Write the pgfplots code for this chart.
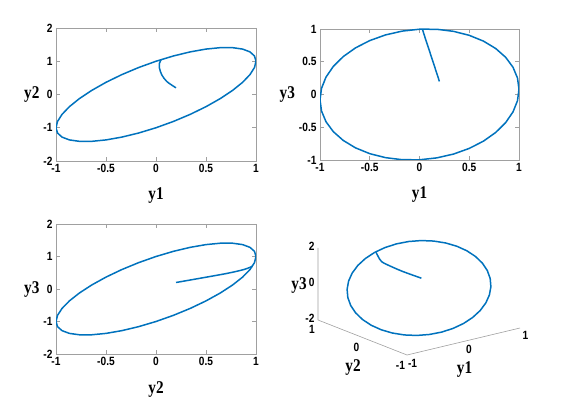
\documentclass[border=0pt]{standalone}
\usepackage{fontspec}
\setmainfont{Liberation Serif}
\newfontfamily\tickfont{Liberation Sans}[FakeStretch=0.85]
\newfontfamily\labfont{Liberation Serif}[FakeStretch=0.85]
\usepackage{pgfplots}
\usepackage{pgfplotstable}
\pgfplotsset{compat=1.18}

\definecolor{mblue}{RGB}{0,114,189}
\definecolor{mgray}{RGB}{160,160,160}

% one period of the limit cycle: c=cos t, s=sin t, cs=c+s, s3 = tilted sine
\pgfplotstableread{
t   c       s       cs      s3
0   1.0000  0.0000  1.0000  0.0800
10  0.9848  0.1736  1.1584  0.2518
20  0.9397  0.3420  1.2817  0.4161
30  0.8660  0.5000  1.3660  0.5677
40  0.7660  0.6428  1.4088  0.7020
50  0.6428  0.7660  1.4088  0.8149
60  0.5000  0.8660  1.3660  0.9032
70  0.3420  0.9397  1.2817  0.9641
80  0.1736  0.9848  1.1584  0.9956
90  0.0000  1.0000  1.0000  0.9968
100 -0.1736 0.9848  0.8112  0.9678
110 -0.3420 0.9397  0.5977  0.9093
120 -0.5000 0.8660  0.3660  0.8232
130 -0.6428 0.7660  0.1232  0.7121
140 -0.7660 0.6428  -0.1232 0.5794
150 -0.8660 0.5000  -0.3660 0.4291
160 -0.9397 0.3420  -0.5977 0.2657
170 -0.9848 0.1736  -0.8112 0.0942
180 -1.0000 0.0000  -1.0000 -0.0800
190 -0.9848 -0.1736 -1.1584 -0.2518
200 -0.9397 -0.3420 -1.2817 -0.4161
210 -0.8660 -0.5000 -1.3660 -0.5677
220 -0.7660 -0.6428 -1.4088 -0.7020
230 -0.6428 -0.7660 -1.4088 -0.8149
240 -0.5000 -0.8660 -1.3660 -0.9032
250 -0.3420 -0.9397 -1.2817 -0.9641
260 -0.1736 -0.9848 -1.1584 -0.9956
270 0.0000  -1.0000 -1.0000 -0.9968
280 0.1736  -0.9848 -0.8112 -0.9678
290 0.3420  -0.9397 -0.5977 -0.9093
300 0.5000  -0.8660 -0.3660 -0.8232
310 0.6428  -0.7660 -0.1232 -0.7121
320 0.7660  -0.6428 0.1232  -0.5794
330 0.8660  -0.5000 0.3660  -0.4291
340 0.9397  -0.3420 0.5977  -0.2657
350 0.9848  -0.1736 0.8112  -0.0942
360 1.0000  0.0000  1.0000  0.0800
}\cyc

\newcommand\tickfnt{\tickfont\bfseries\fontsize{12}{14}\selectfont}
\newcommand\labfnt{\labfont\bfseries\fontsize{18}{20}\selectfont}

\pgfplotsset{
  panel/.style={
    scale only axis,
    anchor=south west,
    axis line style={mgray},
    tick style={mgray, line width=0.6pt},
    major tick length=4bp,
    tick align=inside,
    xmin=-1, xmax=1,
    xtick={-1,-0.5,0,0.5,1},
    ticklabel style={font=\tickfnt, black},
    /pgf/number format/assume math mode=true,
    every axis x label/.style={at={(axis description cs:0.5,0)}, anchor=center, yshift=-35bp, font=\labfnt},
    every axis y label/.style={at={(ticklabel cs:0.5)}, anchor=east, inner sep=0.5bp, font=\labfnt},
  },
  cyc/.style={mblue, line width=1.5bp},
}

\begin{document}
\begin{tikzpicture}
\useasboundingbox (0,0) rectangle (572bp,408bp);

% top left
\begin{axis}[panel, at={(56bp,247bp)}, width=200bp, height=133bp,
  ymin=-2, ymax=2, ytick={-2,-1,0,1,2}, xlabel={y1}, ylabel={y2}]
\addplot[cyc] table[x=c, y=cs] {\cyc};
\addplot[cyc, smooth] coordinates {(0.2,0.2) (0.109,0.388) (0.058,0.589) (0.035,0.79) (0.035,0.94) (0.05,1.04)};
\end{axis}

% top right
\begin{axis}[panel, at={(320bp,248bp)}, width=199bp, height=131bp,
  ymin=-1, ymax=1, ytick={-1,-0.5,0,0.5,1}, xlabel={y1}, ylabel={y3}]
\addplot[cyc] table[x=c, y=s3] {\cyc};
\addplot[cyc, smooth] coordinates {(0.2,0.2) (0.14,0.48) (0.075,0.78) (0.045,0.92) (0.03,0.995)};
\end{axis}

% bottom left
\begin{axis}[panel, at={(56bp,54bp)}, width=200bp, height=130bp,
  ymin=-2, ymax=2, ytick={-2,-1,0,1,2}, xlabel={y2}, ylabel={y3}]
\addplot[cyc] table[x=c, y=cs] {\cyc};
\addplot[cyc, smooth] coordinates {(0.2,0.2) (0.44,0.33) (0.71,0.48) (0.88,0.6) (0.965,0.7)};
\end{axis}

% bottom right, 3-D
\begin{axis}[at={(419bp,120bp)}, anchor=origin,
  x={(56.5bp,13.5bp)}, y={(-44.5bp,17.5bp)}, z={(0bp,18bp)},
  xmin=-1, xmax=1, ymin=-1, ymax=1, zmin=-2, zmax=2,
  xtick={-1,0,1}, ytick={-1,0,1}, ztick={-2,0,2},
  axis line style={draw=none},
  major tick length=0pt,
  ticklabel style={font=\tickfnt, black},
  yticklabel style={yshift=-2bp},
  zticklabel style={yshift=1bp},
  /pgf/number format/assume math mode=true,
  xlabel={y1}, ylabel={y2}, zlabel={y3},
  every axis x label/.style={at={(axis cs:0,-1,-2)}, anchor=center, yshift=-28bp, xshift=1bp, font=\labfnt},
  every axis y label/.style={at={(axis cs:-1,0,-2)}, anchor=center, yshift=-30bp, xshift=-9.5bp, font=\labfnt},
  every axis z label/.style={at={(axis cs:-1,1,0)}, anchor=center, xshift=-19bp, yshift=-1bp, font=\labfnt},
  clip=false]
\draw[mgray, line width=0.6pt] (axis cs:1,-1,-2) -- (axis cs:-1,-1,-2) -- (axis cs:-1,1,-2) -- (axis cs:-1,1,2);
\addplot3[cyc] table[x=s, y=c, z=cs] {\cyc};
\addplot3[cyc, smooth] coordinates {(0.2,0.2,0.2) (0.12,0.505,0.325) (0.07,0.74,0.45) (0.04,0.889,0.567) (0.03,0.953,0.79) (0.02,0.99,1.0)};
\end{axis}
\end{tikzpicture}
\end{document}
